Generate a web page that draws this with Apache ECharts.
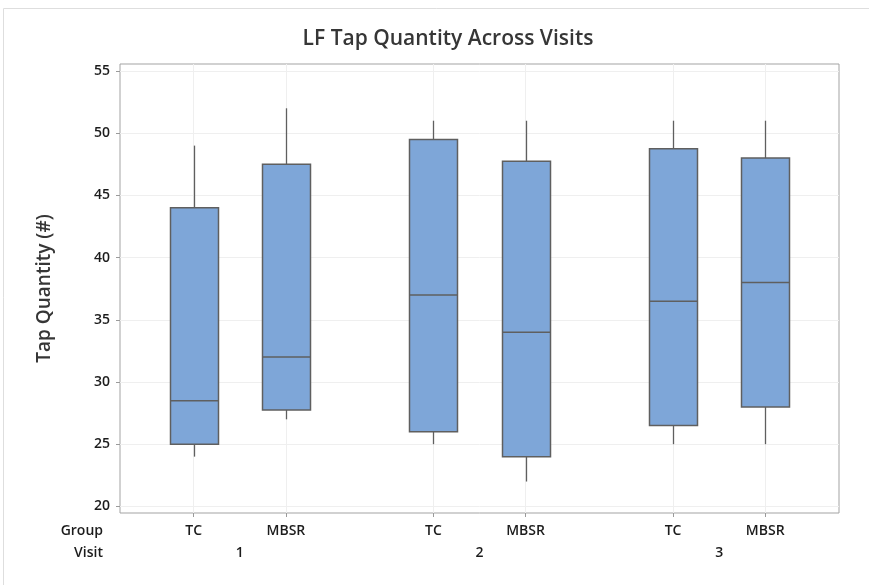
<!DOCTYPE html>
<html>
<head>
<meta charset="utf-8">
<script src="https://cdn.jsdelivr.net/npm/echarts@6/dist/echarts.min.js"></script>
<style>
  html, body { margin: 0; padding: 0; background: #fff; }
  #chart-wrapper { width: 869px; height: 585px; }
</style>
</head>
<body>
<div id="chart-wrapper"></div>
<script>
// slots on the category axis (half steps), boxes sit on some of them
const slotCount = 79;
const boxSlots = [8, 18, 34, 44, 60, 70];
const groups = ["TC", "MBSR", "TC", "MBSR", "TC", "MBSR"];
const visitSlots = [13, 39, 65];
const visits = ["1", "2", "3"];

// [min, Q1, median, Q3, max] per box
const whiskerLow = [24, 27, 25, 22, 25, 25];
const q1 = [25, 27.75, 26, 24, 26.5, 28];
const median = [28.5, 32, 37, 34, 36.5, 38];
const q3 = [44, 47.5, 49.5, 47.75, 48.75, 48];
const whiskerHigh = [49, 52, 51, 51, 51, 51];

const yTicks = [20, 25, 30, 35, 40, 45, 50, 55];

const FONT = "'Open Sans', 'Noto Sans', sans-serif";
const textColor = "#1c1c1c";
const boxFill = "#7ea6d8";
const boxLine = "#5f5f5f";

const slots = [];
for (let i = 0; i < slotCount; i++) slots.push(String(i));

const labelText = {};
boxSlots.forEach((s, i) => (labelText[s] = groups[i]));
visitSlots.forEach((s, i) => (labelText[s] = "\n" + visits[i]));

const boxData = boxSlots.map((s, i) => [
  s,
  whiskerLow[i],
  q1[i],
  median[i],
  q3[i],
  whiskerHigh[i],
]);

const renderBox = (params, api) => {
  const x = api.value(0);
  const pLow = api.coord([x, api.value(1)]);
  const pQ1 = api.coord([x, api.value(2)]);
  const pMed = api.coord([x, api.value(3)]);
  const pQ3 = api.coord([x, api.value(4)]);
  const pHigh = api.coord([x, api.value(5)]);
  const half = 24;
  const cx = Math.round(pQ1[0]) + 0.5;
  const lineStyle = { stroke: boxLine, lineWidth: 1.3 };
  return {
    type: "group",
    children: [
      {
        type: "line",
        shape: { x1: cx, y1: pQ3[1], x2: cx, y2: pHigh[1] },
        style: lineStyle,
      },
      {
        type: "line",
        shape: { x1: cx, y1: pQ1[1], x2: cx, y2: pLow[1] },
        style: lineStyle,
      },
      {
        type: "rect",
        shape: { x: cx - half, y: pQ3[1], width: half * 2, height: pQ1[1] - pQ3[1] },
        style: { fill: boxFill, stroke: boxLine, lineWidth: 1.5 },
      },
      {
        type: "line",
        shape: { x1: cx - half, y1: pMed[1], x2: cx + half, y2: pMed[1] },
        style: { stroke: boxLine, lineWidth: 1.5 },
      },
    ],
  };
};

const chart = echarts.init(document.getElementById("chart-wrapper"), null, {
  renderer: "canvas",
});

const option = {
  backgroundColor: "#fff",
  animation: false,
  title: {
    text: "LF Tap Quantity Across Visits",
    left: 443,
    top: 24,
    textAlign: "center",
    textStyle: {
      fontFamily: FONT,
      fontSize: 21,
      fontWeight: 600,
      color: "#363636",
    },
  },
  graphic: [
    {
      type: "rect",
      shape: { x: 3.5, y: 8.5, width: 900, height: 600 },
      style: { fill: "none", stroke: "#dedede", lineWidth: 1 },
      silent: true,
    },
    {
      type: "text",
      x: 103,
      y: 531,
      style: {
        text: "Group",
        font: "600 14px " + FONT,
        fill: textColor,
        align: "right",
        verticalAlign: "middle",
      },
    },
    {
      type: "text",
      x: 103,
      y: 553,
      style: {
        text: "Visit",
        font: "600 14px " + FONT,
        fill: textColor,
        align: "right",
        verticalAlign: "middle",
      },
    },
  ],
  grid: {
    left: 120,
    right: 30,
    top: 64,
    bottom: 72,
    show: true,
    borderColor: "#a3a3a3",
    borderWidth: 1,
  },
  xAxis: {
    type: "category",
    data: slots,
    boundaryGap: false,
    axisLine: { show: false },
    axisTick: {
      show: true,
      length: 4,
      interval: (idx) => boxSlots.includes(idx),
      lineStyle: { color: "#9a9a9a" },
    },
    splitLine: {
      show: true,
      interval: (idx) => boxSlots.includes(idx),
      lineStyle: { color: "#efefef" },
    },
    axisLabel: {
      interval: (idx) => labelText[idx] !== undefined,
      formatter: (v, idx) => labelText[idx] || "",
      margin: 7,
      fontFamily: FONT,
      fontSize: 14,
      fontWeight: 600,
      lineHeight: 22,
      color: textColor,
      hideOverlap: false,
    },
  },
  yAxis: {
    type: "value",
    min: 19.47,
    max: 55.56,
    splitNumber: 7,
    name: "Tap Quantity (#)",
    nameLocation: "middle",
    nameGap: 66,
    nameTextStyle: {
      fontFamily: FONT,
      fontSize: 19,
      fontWeight: 600,
      color: "#363636",
    },
    axisLine: { show: false },
    axisTick: {
      show: true,
      length: 4,
      customValues: yTicks,
      lineStyle: { color: "#9a9a9a" },
    },
    axisLabel: {
      customValues: yTicks,
      margin: 10,
      fontFamily: FONT,
      fontSize: 14,
      fontWeight: 600,
      color: textColor,
    },
    splitLine: { show: true, lineStyle: { color: "#efefef" } },
  },
  series: [
    {
      type: "custom",
      renderItem: renderBox,
      encode: { x: 0, y: [1, 2, 3, 4, 5] },
      data: boxData,
      z: 3,
    },
  ],
};

chart.setOption(option);
</script>
</body>
</html>
